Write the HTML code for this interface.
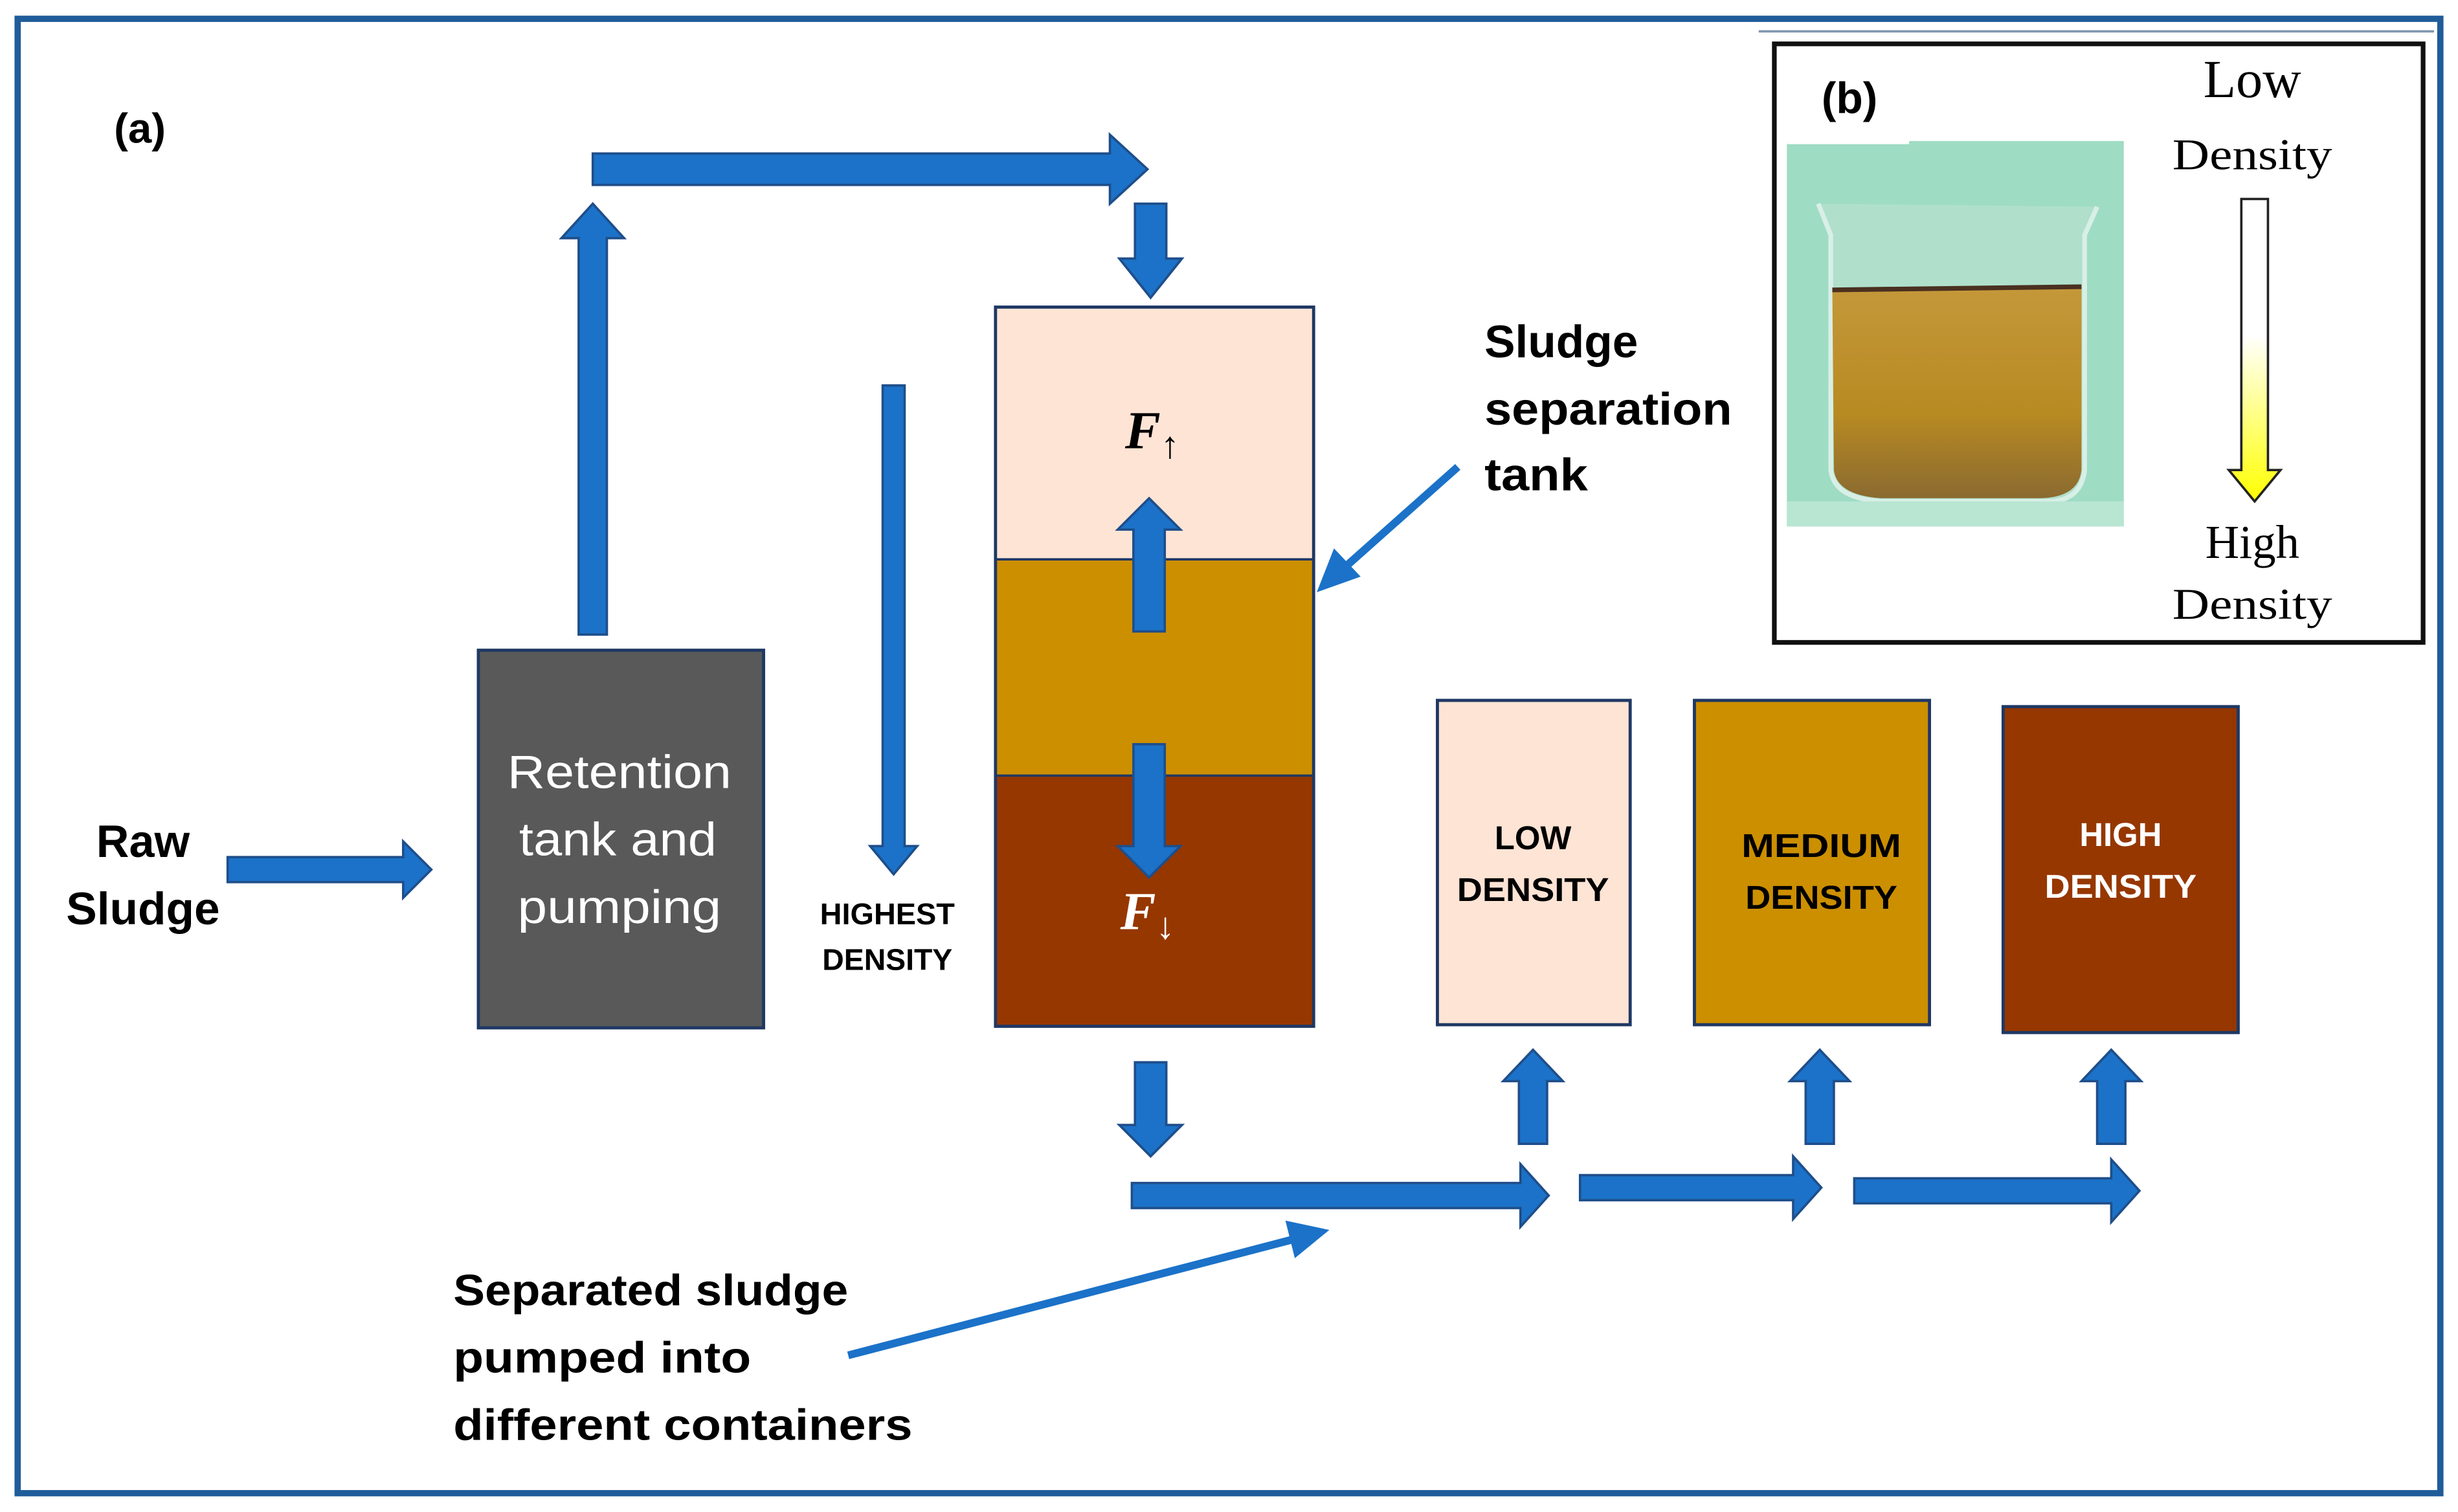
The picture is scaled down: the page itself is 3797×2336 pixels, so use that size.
<!DOCTYPE html>
<html><head><meta charset="utf-8"><style>
html,body{margin:0;padding:0;background:#fff;width:3797px;height:2336px;overflow:hidden}
svg{display:block}
.b{font-family:"Liberation Sans",sans-serif;font-weight:bold}
.s{font-family:"Liberation Serif",serif}
</style></head><body>
<svg width="3797" height="2336" viewBox="0 0 1568 965" xmlns="http://www.w3.org/2000/svg">
<defs>
<linearGradient id="yg" x1="0" y1="0" x2="0" y2="1">
<stop offset="0" stop-color="#fff"/><stop offset="0.45" stop-color="#fff"/><stop offset="1" stop-color="#ffff00"/></linearGradient>
<linearGradient id="liq" x1="0" y1="0" x2="0" y2="1">
<stop offset="0" stop-color="#c4983a"/><stop offset="0.6" stop-color="#b88a22"/><stop offset="1" stop-color="#8a6a30"/></linearGradient>
</defs>
<rect x="0" y="0" width="1568" height="965" fill="#fff"/>
<rect x="11" y="12" width="1546" height="941" fill="none" stroke="#1f5c99" stroke-width="4"/>
<line x1="1122" y1="20" x2="1553" y2="20" stroke="#8096b0" stroke-width="1.5"/>

<!-- (b) panel -->
<rect x="1132" y="28" width="414" height="382" fill="#fff" stroke="#111" stroke-width="3"/>
<rect x="1140" y="90" width="215" height="246" fill="#9fdcc4"/>
<rect x="1140" y="80" width="78" height="12" fill="#fff"/>
<path d="M1160,130 L1168,150 L1168,300 Q1170,318 1200,320 L1310,320 Q1328,318 1330,300 L1330,150 L1338,132" fill="#b0e0cc" stroke="#d8efe6" stroke-width="3"/>
<path d="M1169,185 L1328,183 L1328,300 Q1326,318 1300,318 L1200,318 Q1172,316 1170,300 Z" fill="url(#liq)"/>
<line x1="1169" y1="185" x2="1328" y2="183" stroke="#4a3020" stroke-width="3"/>
<rect x="1140" y="320" width="215" height="16" fill="#b8e6d2"/>
<text x="1180" y="72" class="b" font-size="28" text-anchor="middle">(b)</text>
<text x="1437" y="62" class="s" font-size="34" text-anchor="middle">Low</text>
<text x="1437" y="108" class="s" font-size="28" text-anchor="middle" textLength="102" lengthAdjust="spacingAndGlyphs">Density</text>
<path d="M1430,127 L1447,127 L1447,300 L1455,300 L1438.5,320 L1422,300 L1430,300 Z" fill="url(#yg)" stroke="#222" stroke-width="1.5"/>
<text x="1437" y="356" class="s" font-size="30" text-anchor="middle">High</text>
<text x="1437" y="395" class="s" font-size="28" text-anchor="middle" textLength="102" lengthAdjust="spacingAndGlyphs">Density</text>

<!-- (a) -->
<text x="89" y="91" class="b" font-size="27" text-anchor="middle">(a)</text>
<text x="91" y="547" class="b" font-size="29" text-anchor="middle">Raw</text>
<text x="91" y="590" class="b" font-size="29" text-anchor="middle" textLength="98" lengthAdjust="spacingAndGlyphs">Sludge</text>

<rect x="305" y="415" width="182" height="241" fill="#595959" stroke="#1f3864" stroke-width="2"/>
<g font-family="Liberation Sans,sans-serif" font-size="30" fill="#fff" text-anchor="middle">
<text x="395" y="503" textLength="143" lengthAdjust="spacingAndGlyphs">Retention</text><text x="394" y="546" textLength="126" lengthAdjust="spacingAndGlyphs">tank and</text><text x="395" y="589" textLength="130" lengthAdjust="spacingAndGlyphs">pumping</text></g>

<text x="566" y="590" class="b" font-size="19" text-anchor="middle" textLength="86" lengthAdjust="spacingAndGlyphs">HIGHEST</text>
<text x="566" y="619" class="b" font-size="19" text-anchor="middle" textLength="83" lengthAdjust="spacingAndGlyphs">DENSITY</text>

<!-- tank -->
<rect x="635" y="196" width="203" height="161" fill="#fde4d5"/>
<rect x="635" y="357" width="203" height="138" fill="#cc8f00"/>
<rect x="635" y="495" width="203" height="160" fill="#963700"/>
<line x1="635" y1="357" x2="838" y2="357" stroke="#1f3864" stroke-width="1.5"/>
<line x1="635" y1="495" x2="838" y2="495" stroke="#1f3864" stroke-width="1.5"/>
<rect x="635" y="196" width="203" height="459" fill="none" stroke="#1f3864" stroke-width="2"/>
<text x="735" y="286" class="s" font-size="34" font-weight="bold" font-style="italic" text-anchor="middle">F<tspan font-size="24" font-style="normal" font-weight="normal" dy="6">↑</tspan></text>
<text x="732" y="593" class="s" font-size="34" font-weight="bold" font-style="italic" fill="#fff" text-anchor="middle">F<tspan font-size="24" font-style="normal" font-weight="normal" dy="6">↓</tspan></text>

<text x="947" y="228" class="b" font-size="29" textLength="98" lengthAdjust="spacingAndGlyphs">Sludge</text>
<text x="947" y="271" class="b" font-size="29" textLength="158" lengthAdjust="spacingAndGlyphs">separation</text>
<text x="947" y="313" class="b" font-size="29" textLength="66" lengthAdjust="spacingAndGlyphs">tank</text>

<!-- containers -->
<rect x="917" y="447" width="123" height="207" fill="#fde4d5" stroke="#1f3864" stroke-width="2"/>
<rect x="1081" y="447" width="150" height="207" fill="#cc8f00" stroke="#1f3864" stroke-width="2"/>
<rect x="1278" y="451" width="150" height="208" fill="#963700" stroke="#1f3864" stroke-width="2"/>
<g class="b" font-size="21" text-anchor="middle">
<text x="978" y="542">LOW</text><text x="978" y="575" textLength="97" lengthAdjust="spacingAndGlyphs">DENSITY</text>
<text x="1162" y="547" textLength="102" lengthAdjust="spacingAndGlyphs">MEDIUM</text><text x="1162" y="580" textLength="97" lengthAdjust="spacingAndGlyphs">DENSITY</text>
<text x="1353" y="540" fill="#fff">HIGH</text><text x="1353" y="573" fill="#fff" textLength="97" lengthAdjust="spacingAndGlyphs">DENSITY</text></g>

<text x="289" y="833" class="b" font-size="28" textLength="252" lengthAdjust="spacingAndGlyphs">Separated sludge</text>
<text x="289" y="876" class="b" font-size="28" textLength="190" lengthAdjust="spacingAndGlyphs">pumped into</text>
<text x="289" y="919" class="b" font-size="28" textLength="293" lengthAdjust="spacingAndGlyphs">different containers</text>

<!-- arrows -->
<g fill="#1b72c8" stroke="#1f4e8a" stroke-width="1.5">
<polygon points="145,547 257,547 257,537 275,555 257,573 257,563 145,563"/>
<polygon points="369,405 369,152 358,152 378,130 398,152 387,152 387,405"/>
<polygon points="378,98 708,98 708,86 732,108 708,130 708,118 378,118"/>
<polygon points="724,130 744,130 744,165 754,165 734,190 714,165 724,165"/>
<polygon points="563,246 577,246 577,540 585,540 570,558 555,540 563,540"/>
<polygon points="723,403 743,403 743,338 753,338 733,318 713,338 723,338"/>
<polygon points="723,475 743,475 743,540 753,540 733,560 713,540 723,540"/>
<polygon points="724,678 744,678 744,718 754,718 734,738 714,718 724,718"/>
<polygon points="722,755 970,755 970,743 988,763 970,783 970,771 722,771"/>
<polygon points="1008,750 1144,750 1144,738 1162,758 1144,778 1144,766 1008,766"/>
<polygon points="1183,752 1347,752 1347,740 1365,760 1347,780 1347,768 1183,768"/>
<polygon points="969,730 969,690 959,690 978,670 997,690 987,690 987,730"/>
<polygon points="1152,730 1152,690 1142,690 1161,670 1180,690 1170,690 1170,730"/>
<polygon points="1338,730 1338,690 1328,690 1347,670 1366,690 1356,690 1356,730"/>
</g>
<g fill="#1b72c8">
<line x1="930" y1="298" x2="858" y2="362" stroke="#1b72c8" stroke-width="5"/>
<polygon points="840,378 851,350 868,368"/>
<line x1="541" y1="865" x2="825" y2="791" stroke="#1b72c8" stroke-width="5"/>
<polygon points="848,785 820,779 826,803"/>
</g>
</svg>
</body></html>
